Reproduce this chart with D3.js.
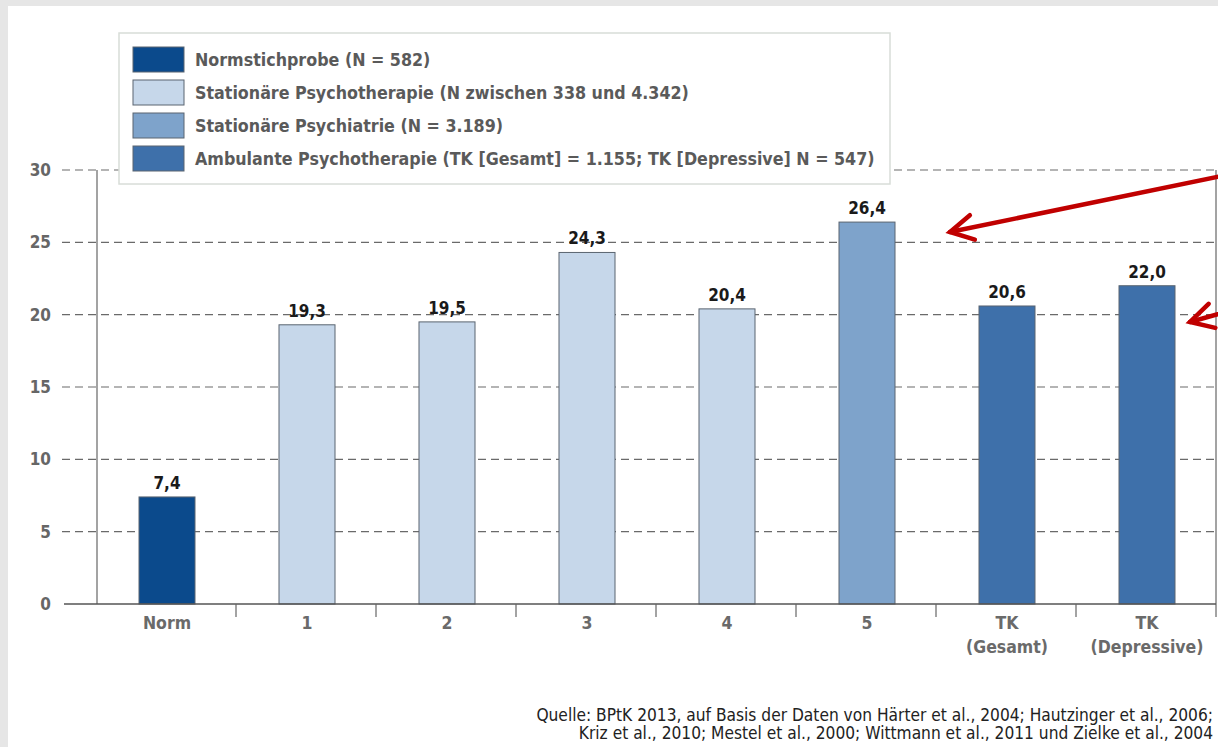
<!DOCTYPE html>
<html>
<head>
<meta charset="utf-8">
<script src="https://cdn.jsdelivr.net/npm/d3@7"></script>
<style>
  html, body { margin: 0; padding: 0; background: #e6e6e6; }
  svg { display: block; }
</style>
</head>
<body>
<div id="chart"></div>
<script>
// data
let categories = ["Norm", "1", "2", "3", "4", "5", "TK|(Gesamt)", "TK|(Depressive)"];
let values = [7.4, 19.3, 19.5, 24.3, 20.4, 26.4, 20.6, 22.0];
let groupOf = [0, 1, 1, 1, 1, 2, 3, 3];
let groupNames = [
  "Normstichprobe (N = 582)",
  "Stationäre Psychotherapie (N zwischen 338 und 4.342)",
  "Stationäre Psychiatrie (N = 3.189)",
  "Ambulante Psychotherapie (TK [Gesamt] = 1.155; TK [Depressive] N = 547)"
];
let groupColors = ["#0b4a8c", "#c6d7ea", "#7ea3cb", "#3e70aa"];
let yTicks = [0, 5, 10, 15, 20, 25, 30];
let sourceLines = [
  "Quelle: BPtK 2013, auf Basis der Daten von Härter et al., 2004; Hautzinger et al., 2006;",
  "Kriz et al., 2010; Mestel et al., 2000; Wittmann et al., 2011 und Zielke et al., 2004"
];

let width = 1218, height = 747;
let narrow = "'Liberation Sans Narrow', 'DejaVu Sans Condensed', sans-serif";

let svg = d3.select('#chart').append('svg')
  .attr('width', width)
  .attr('height', height)

// white panel
svg.append('rect')
  .attr('x', 8).attr('y', 6)
  .attr('width', width - 8).attr('height', height - 6)
  .attr('fill', '#fff')

let x = d3.scaleBand()
  .domain(categories)
  .range([97, 1217])
  .paddingInner(0.6)
  .paddingOuter(0.3)

let y = d3.scaleLinear()
  .domain([0, 30])
  .range([604, 170])

// dashed grid
svg.selectAll('.grid')
  .data(yTicks.filter(d => d > 0))
  .enter().append('line').classed('grid', true)
  .attr('x1', 62).attr('x2', 1216)
  .attr('y1', d => y(d)).attr('y2', d => y(d))
  .attr('stroke', '#6a6a6a')
  .attr('stroke-width', 1.2)
  .attr('stroke-dasharray', '8,5')

// y tick labels
svg.selectAll('.ylab')
  .data(yTicks)
  .enter().append('text').classed('ylab', true)
  .attr('x', 51).attr('y', d => y(d))
  .attr('dy', '0.35em')
  .attr('text-anchor', 'end')
  .style('font-family', narrow)
  .style('font-weight', 'bold')
  .style('font-size', '17px')
  .attr('fill', '#666')
  .text(d => d)

// left and right frame lines
svg.append('line')
  .attr('x1', 97).attr('x2', 97).attr('y1', y(30)).attr('y2', y(0))
  .attr('stroke', '#666').attr('stroke-width', 1.2)
svg.append('line')
  .attr('x1', 1216).attr('x2', 1216).attr('y1', y(30)).attr('y2', y(0) + 13)
  .attr('stroke', '#666').attr('stroke-width', 1.2)

// bars
svg.selectAll('.bar')
  .data(values)
  .enter().append('rect').classed('bar', true)
  .attr('x', (d, i) => x(categories[i]))
  .attr('y', d => y(d))
  .attr('width', x.bandwidth())
  .attr('height', d => y(0) - y(d))
  .attr('fill', (d, i) => groupColors[groupOf[i]])
  .attr('stroke', '#5a6470')
  .attr('stroke-width', 1)

// value labels
svg.selectAll('.val')
  .data(values)
  .enter().append('text').classed('val', true)
  .attr('x', (d, i) => x(categories[i]) + x.bandwidth() / 2)
  .attr('y', d => y(d) - 8)
  .attr('text-anchor', 'middle')
  .style('font-family', narrow)
  .style('font-weight', 'bold')
  .style('font-size', '17px')
  .attr('fill', '#1a1a1a')
  .text(d => d3.format('.1f')(d).replace('.', ','))

// baseline and category separators
svg.append('line')
  .attr('x1', 64).attr('x2', 1216).attr('y1', y(0)).attr('y2', y(0))
  .attr('stroke', '#555').attr('stroke-width', 1.5)

svg.selectAll('.sep')
  .data(categories.slice(1))
  .enter().append('line').classed('sep', true)
  .attr('x1', d => x(d) - x.step() * 0.3 - 1)
  .attr('x2', d => x(d) - x.step() * 0.3 - 1)
  .attr('y1', y(0)).attr('y2', y(0) + 13)
  .attr('stroke', '#666').attr('stroke-width', 1.2)

// category labels
let cat = svg.selectAll('.cat')
  .data(categories)
  .enter().append('text').classed('cat', true)
  .attr('x', d => x(d) + x.bandwidth() / 2)
  .attr('y', 629)
  .attr('text-anchor', 'middle')
  .style('font-family', narrow)
  .style('font-weight', 'bold')
  .style('font-size', '17.5px')
  .attr('fill', '#6a6a6a')

cat.selectAll('tspan')
  .data(d => d.split('|'))
  .enter().append('tspan')
  .attr('x', function() { return d3.select(this.parentNode).attr('x') })
  .attr('dy', (d, i) => i === 0 ? 0 : 24)
  .text(d => d)

// legend
let legend = svg.append('g').attr('transform', 'translate(119,33)')
legend.append('rect')
  .attr('width', 771).attr('height', 151)
  .attr('fill', '#fff')
  .attr('stroke', '#d8ddd8').attr('stroke-width', 1.5)

let item = legend.selectAll('.item')
  .data(groupNames)
  .enter().append('g').classed('item', true)
  .attr('transform', (d, i) => 'translate(14,' + (14 + i * 33) + ')')

item.append('rect')
  .attr('width', 51).attr('height', 25)
  .attr('fill', (d, i) => groupColors[i])
  .attr('stroke', '#5a6470').attr('stroke-width', 1)

item.append('text')
  .attr('x', 62).attr('y', 12.5)
  .attr('dy', '0.35em')
  .style('font-family', narrow)
  .style('font-weight', 'bold')
  .style('font-size', '17.7px')
  .attr('fill', '#5a5a5a')
  .text(d => d)

// red arrows
let red = '#c00000'
function arrow(x1, y1, x2, y2) {
  let a = Math.atan2(y1 - y2, x1 - x2)
  let len = 26, spread = 0.5
  let g = svg.append('g')
    .attr('stroke', red).attr('stroke-width', 4.5)
    .attr('stroke-linecap', 'round').attr('fill', 'none')
  g.append('line').attr('x1', x1).attr('y1', y1).attr('x2', x2).attr('y2', y2)
  g.append('polyline')
    .attr('points', [
      [x2 + len * Math.cos(a + spread), y2 + len * Math.sin(a + spread)],
      [x2, y2],
      [x2 + len * Math.cos(a - spread), y2 + len * Math.sin(a - spread)]
    ].map(p => p.join(',')).join(' '))
}
arrow(1222, 176, 950, 232)
arrow(1240, 308, 1190, 322)

// source
svg.selectAll('.src')
  .data(sourceLines)
  .enter().append('text').classed('src', true)
  .attr('x', 1213)
  .attr('y', (d, i) => 721 + i * 18)
  .attr('text-anchor', 'end')
  .style('font-family', "'DejaVu Sans Condensed', sans-serif")
  .style('font-size', '17.2px')
  .attr('fill', '#222')
  .text(d => d)
</script>
</body>
</html>
